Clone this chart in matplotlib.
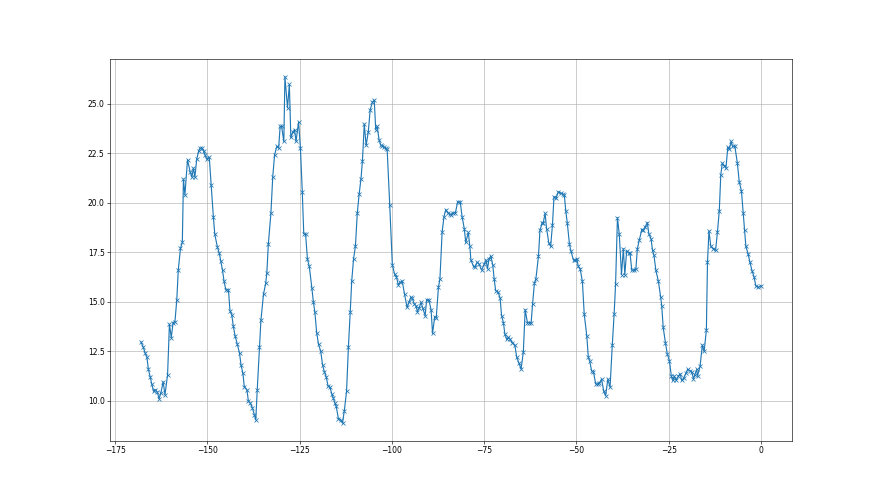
import matplotlib

matplotlib.use("Agg")
import matplotlib.pyplot as plt

OUT_PATH = "out.png"

# hours relative to now
hours = [
    -168.0, -167.4, -166.9, -166.4, -166.0, -165.5, -165.1, -164.6, -164.2, -163.6,
    -163.1, -162.6, -162.0, -161.5, -160.8, -160.3, -159.8, -159.3, -158.8, -158.3,
    -157.9, -157.3, -156.8, -156.5, -156.1, -155.4, -154.7, -154.2, -153.8, -153.4,
    -152.9, -152.4, -152.0, -151.4, -151.0, -150.6, -150.2, -149.5, -149.0, -148.4,
    -148.0, -147.3, -146.8, -146.4, -145.9, -145.5, -145.0, -144.3, -143.9, -143.4,
    -143.0, -142.5, -141.9, -141.3, -140.9, -140.4, -140.0, -139.3, -138.9, -138.4,
    -137.8, -137.3, -136.9, -136.5, -135.9, -135.5, -134.8, -134.2, -133.9, -133.5,
    -132.8, -132.3, -131.8, -131.2, -130.7, -130.3, -129.9, -129.3, -129.0, -128.3,
    -127.8, -127.4, -126.9, -126.4, -126.0, -125.3, -124.8, -124.3, -123.9, -123.4,
    -122.9, -122.4, -121.7, -121.3, -120.9, -120.4, -119.9, -119.3, -118.8, -118.3,
    -117.8, -117.3, -116.8, -116.3, -115.9, -115.5, -115.1, -114.5, -113.9, -113.4,
    -112.9, -112.3, -111.8, -111.3, -110.9, -110.4, -109.9, -109.4, -108.9, -108.4,
    -108.0, -107.5, -107.0, -106.4, -105.9, -105.3, -104.8, -104.4, -104.0, -103.5,
    -103.0, -102.6, -102.1, -101.7, -101.3, -100.6, -99.9, -99.3, -98.8, -98.3,
    -97.8, -97.2, -96.6, -95.9, -95.4, -94.9, -94.5, -94.0, -93.5, -93.1,
    -92.6, -92.1, -91.7, -91.0, -90.6, -90.0, -89.4, -89.0, -88.4, -88.0,
    -87.4, -87.0, -86.4, -85.9, -85.4, -84.9, -84.4, -83.9, -83.4, -82.8,
    -82.2, -81.5, -81.0, -80.4, -80.0, -79.3, -78.9, -78.6, -77.9, -77.5,
    -76.9, -76.4, -75.7, -75.0, -74.5, -74.1, -73.7, -73.2, -72.7, -72.3,
    -71.9, -71.2, -70.7, -70.3, -69.8, -69.4, -68.9, -68.5, -68.0, -67.4,
    -66.7, -66.2, -65.6, -65.0, -64.4, -63.9, -63.3, -62.8, -62.3, -61.9,
    -61.4, -61.0, -60.3, -59.9, -59.3, -59.0, -58.5, -58.1, -57.5, -57.0,
    -56.5, -56.1, -55.5, -54.9, -54.3, -53.7, -53.3, -52.9, -52.5, -51.9,
    -51.5, -50.8, -50.4, -49.9, -49.5, -49.0, -48.4, -47.9, -47.2, -46.8,
    -46.4, -45.9, -45.4, -44.8, -44.3, -43.8, -43.2, -42.6, -42.1, -41.5,
    -40.9, -40.3, -39.8, -39.4, -38.9, -38.4, -37.8, -37.3, -36.9, -36.4,
    -35.9, -35.5, -35.0, -34.5, -33.9, -33.5, -33.0, -32.3, -31.9, -31.3,
    -30.8, -30.4, -29.8, -29.4, -29.0, -28.5, -27.8, -27.2, -26.9, -26.5,
    -25.9, -25.4, -24.8, -24.3, -23.9, -23.5, -23.0, -22.4, -21.9, -21.5,
    -20.9, -20.3, -19.9, -19.2, -18.8, -18.3, -17.9, -17.4, -17.2, -16.5,
    -15.9, -15.4, -14.8, -14.5, -14.1, -13.6, -12.9, -12.3, -11.8, -11.3,
    -10.9, -10.5, -9.9, -9.5, -9.0, -8.6, -8.1, -7.7, -7.1, -6.4,
    -5.9, -5.3, -4.8, -4.4, -4.1, -3.5, -3.0, -2.4, -1.9, -1.4,
    -0.7, 0.0,
]

temperature = [
    12.97, 12.71, 12.42, 12.20, 11.58, 11.20, 10.85, 10.47, 10.56, 10.44,
    10.10, 10.40, 10.95, 10.30, 11.30, 13.86, 13.19, 13.95, 14.00, 15.10,
    16.60, 17.70, 18.00, 21.20, 20.40, 22.17, 21.58, 21.30, 21.75, 21.30,
    22.20, 22.60, 22.76, 22.76, 22.60, 22.40, 22.20, 22.30, 20.90, 19.30,
    18.40, 17.76, 17.46, 17.08, 16.58, 16.03, 15.60, 15.60, 14.55, 14.34,
    13.78, 13.27, 12.85, 12.40, 11.80, 11.40, 10.70, 10.56, 9.97, 9.88,
    9.63, 9.30, 9.03, 10.56, 12.71, 14.07, 15.39, 15.93, 16.46, 17.90,
    19.46, 21.32, 22.42, 22.85, 22.76, 23.86, 23.86, 23.10, 26.37, 24.80,
    25.98, 23.30, 23.56, 23.70, 23.10, 24.08, 22.76, 20.56, 18.44, 18.40,
    17.15, 16.78, 15.69, 15.00, 14.50, 13.44, 12.85, 12.50, 11.80, 11.46,
    11.19, 10.73, 10.68, 10.34, 10.14, 9.90, 9.71, 9.08, 9.03, 8.86,
    9.50, 10.47, 12.71, 14.50, 16.05, 17.17, 17.80, 19.46, 20.42, 21.20,
    22.10, 23.98, 22.90, 23.60, 24.70, 25.08, 25.19, 23.70, 23.86, 23.19,
    22.90, 22.88, 22.80, 22.75, 22.70, 19.88, 16.88, 16.40, 16.27, 15.86,
    15.98, 16.03, 15.39, 14.71, 14.97, 15.22, 15.19, 14.90, 14.80, 14.50,
    14.70, 14.97, 14.70, 14.30, 15.10, 15.10, 14.60, 13.40, 14.25, 14.20,
    15.73, 16.15, 18.53, 19.30, 19.66, 19.49, 19.42, 19.40, 19.49, 19.49,
    20.05, 20.05, 19.30, 18.70, 18.00, 18.50, 17.80, 17.10, 16.78, 16.75,
    17.00, 16.90, 16.60, 16.90, 17.10, 16.66, 17.17, 17.30, 16.88, 16.15,
    15.56, 15.47, 15.19, 14.30, 13.95, 13.36, 13.10, 13.20, 13.10, 12.93,
    12.81, 12.20, 11.90, 11.60, 12.46, 14.60, 13.95, 13.95, 13.90, 14.88,
    15.93, 16.15, 17.30, 18.60, 18.98, 19.00, 19.46, 18.70, 17.97, 17.80,
    18.90, 20.30, 20.25, 20.56, 20.48, 20.44, 20.40, 19.60, 19.00, 17.90,
    17.56, 17.10, 17.10, 17.17, 16.78, 16.66, 16.03, 14.37, 13.27, 12.20,
    12.00, 11.50, 11.46, 10.85, 10.83, 10.90, 11.08, 10.47, 10.25, 11.08,
    10.68, 12.81, 14.37, 15.90, 19.25, 18.40, 16.37, 17.68, 16.36, 17.58,
    17.46, 17.47, 16.58, 16.60, 16.66, 17.68, 18.10, 18.64, 18.64, 18.80,
    19.00, 18.44, 18.19, 17.60, 17.34, 16.60, 16.03, 15.25, 14.80, 13.70,
    12.93, 12.37, 12.00, 11.24, 11.02, 11.24, 11.02, 11.24, 11.36, 11.02,
    11.15, 11.40, 11.58, 11.50, 11.46, 11.12, 11.32, 11.58, 11.24, 11.75,
    12.81, 12.50, 13.56, 17.00, 18.58, 17.80, 17.68, 17.60, 18.53, 19.60,
    21.40, 22.00, 21.86, 21.75, 22.80, 22.70, 23.10, 22.85, 22.88, 22.00,
    21.07, 20.60, 19.46, 18.60, 17.80, 17.42, 17.00, 16.54, 16.27, 15.80,
    15.73, 15.80,
]


def plot_series():
    fig, ax = plt.subplots(figsize=(16, 9))
    ax.plot(hours, temperature, marker="x", color="tab:blue")
    ax.grid(True)
    fig.savefig(OUT_PATH, dpi=55)
    plt.close(fig)


if __name__ == "__main__":
    plot_series()
